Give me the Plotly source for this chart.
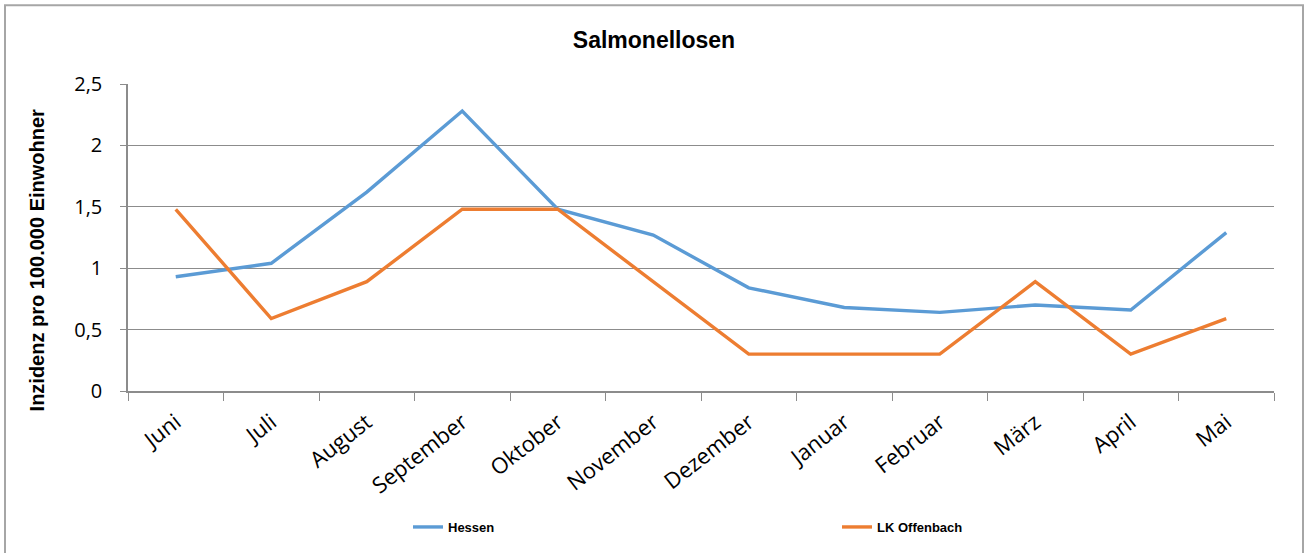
import plotly.graph_objects as go

months = ["Juni", "Juli", "August", "September", "Oktober", "November",
          "Dezember", "Januar", "Februar", "März", "April", "Mai"]
hessen = [0.93, 1.04, 1.62, 2.28, 1.48, 1.27, 0.84, 0.68, 0.64, 0.70, 0.66, 1.29]
offenbach = [1.48, 0.59, 0.89, 1.48, 1.48, 0.89, 0.30, 0.30, 0.30, 0.89, 0.30, 0.59]

W, H = 1306, 553
L, R, T, B = 128, 1274, 84, 392
pw, ph = R - L, B - T


def px(x):
    return (x - L) / pw


def py(y):
    return (B - y) / ph


fig = go.Figure()
fig.add_trace(go.Scatter(x=months, y=hessen, mode="lines", name="Hessen",
                         line=dict(color="#5B9BD5", width=3.4), legend="legend"))
fig.add_trace(go.Scatter(x=months, y=offenbach, mode="lines", name="LK Offenbach",
                         line=dict(color="#ED7D31", width=3.4), legend="legend2"))

grid = "#8c8c8c"
legfont = dict(family="Liberation Sans", size=13, color="black", weight="bold")
fig.update_layout(
    width=W, height=H,
    margin=dict(l=L, r=W - R, t=T, b=H - B),
    paper_bgcolor="white", plot_bgcolor="white",
    separators=", ",
    title=dict(text="<b>Salmonellosen</b>", x=654 / W, xanchor="center",
               y=1 - 40 / H, yanchor="middle",
               font=dict(family="Liberation Sans", size=23, color="black")),
    xaxis=dict(type="category", range=[-0.5, 11.5], tickson="boundaries",
               ticks="outside", ticklen=8, tickcolor=grid, showline=True,
               linecolor=grid, linewidth=1.5, showgrid=False, tickangle=-38,
               ticklabelstandoff=8,
               tickfont=dict(family="Open Sans", size=22, color="black")),
    yaxis=dict(range=[0, 2.5], dtick=0.5, ticks="outside", ticklen=6,
               tickcolor=grid, showline=True, linecolor=grid, linewidth=1.5,
               showgrid=True, gridcolor=grid, gridwidth=1.2, zeroline=False,
               ticklabelstandoff=14,
               tickfont=dict(family="Open Sans", size=20, color="black")),
    legend=dict(orientation="h", x=px(408), xanchor="left",
                y=py(527), yanchor="middle", font=legfont,
                bgcolor="rgba(0,0,0,0)"),
    legend2=dict(orientation="h", x=px(837), xanchor="left",
                 y=py(527), yanchor="middle", font=legfont,
                 bgcolor="rgba(0,0,0,0)"),
    showlegend=True,
)

fig.add_annotation(text="<b>Inzidenz pro 100.000 Einwohner</b>", textangle=-90,
                   xref="paper", yref="paper", x=px(37), y=py(261),
                   xanchor="center", yanchor="middle", showarrow=False,
                   font=dict(family="Liberation Sans", size=20, color="black"))

fig.add_shape(type="rect", xref="paper", yref="paper",
              x0=px(5), x1=px(1303), y0=py(565), y1=py(5),
              line=dict(color="#a6a6a6", width=2), layer="below")

fig.write_html("out.html", config={"displayModeBar": False},
               post_script="document.body.style.margin='0';")
